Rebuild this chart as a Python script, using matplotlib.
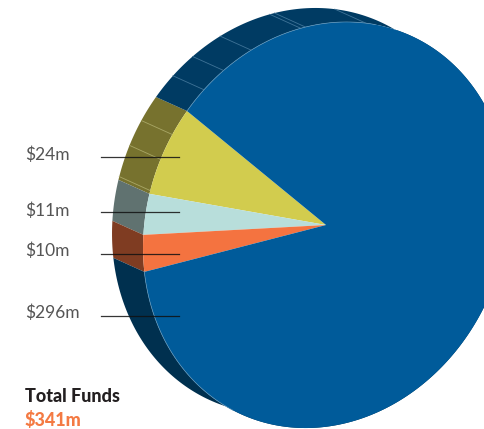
import numpy as np
import matplotlib.pyplot as plt

labels = ['$24m', '$11m', '$10m', '$296m']
values = [24, 11, 10, 296]
top_colors = ['#d2cc4e', '#b8dedb', '#f47340', '#005b9a']
side_colors = ['#77722e', '#607270', '#7f3c22', '#003b63']
dark_side = '#00304f'
label_y = [155, 211, 251, 313]
line_y = [157, 212, 253.5, 316]
seams = [7.7, 15.3, 24.4, -7.6, -15.4, -25.3, -41.5, -43, -62]

# the pie is a circle pushed through this skew, all in pixel coordinates
center = np.array([326, 225])
vec_a = np.array([-139, -114])
vec_b = np.array([-119, 168])
depth = np.array([-31, -14])


def rim(t1, t2):
    t = np.radians(np.linspace(t1, t2, max(int(abs(t2 - t1)), 2) + 1))
    return center + np.outer(np.cos(t), vec_a) + np.outer(np.sin(t), vec_b)


def draw_side(ax, t1, t2, color):
    front = rim(t1, t2)
    pts = np.vstack([front, (front + depth)[::-1]])
    ax.fill(pts[:, 0], pts[:, 1], color=color, lw=0, zorder=2)


fig = plt.figure(figsize=(4.85, 4.29), dpi=100)
ax = fig.add_axes([0, 0, 1, 1])
ax.set_xlim(0, 485)
ax.set_ylim(429, 0)
ax.axis('off')

angles = np.cumsum([0] + values) / sum(values) * 360

for i in range(len(values)):
    t1, t2 = angles[i], angles[i + 1]
    if i == 3:
        # the lower part of the big slice's wall is darker
        draw_side(ax, t1, 180, dark_side)
        draw_side(ax, 180, t2, side_colors[i])
    else:
        draw_side(ax, t1, t2, side_colors[i])

for s in seams:
    p = rim(s, s + 0.01)[0]
    col = '#a9a766' if s > 0 else '#3f7397'
    ax.plot([p[0], p[0] + depth[0]], [p[1], p[1] + depth[1]], color=col, lw=0.6, zorder=3)

for i in range(len(values)):
    arc = rim(angles[i], angles[i + 1])
    pts = np.vstack([center, arc])
    ax.fill(pts[:, 0], pts[:, 1], color=top_colors[i], lw=0, zorder=4)

# thin pale edge only where the big slice meets its wall
for t1, t2 in [(angles[3], 100), (295, 360)]:
    arc = rim(t1, t2)
    ax.plot(arc[:, 0], arc[:, 1], color='#5c93b8', lw=0.5, zorder=5)

for lab, ly, y in zip(labels, label_y, line_y):
    ax.text(25, ly, lab.replace('$', r'\$'), fontsize=12.5, family='Lato', color='#555555',
            va='center', ha='left')
    ax.plot([101, 179], [y, y], color='#111111', lw=0.9, alpha=0.85, zorder=6)

ax.text(25, 396, 'Total Funds', fontsize=13, family='Lato', fontweight='black',
        color='#231f20', va='center', ha='left')
ax.text(25, 420, r'\$341m', fontsize=13, family='Lato', fontweight='black',
        color='#f47a43', va='center', ha='left')

plt.savefig('out.png', dpi=100)
